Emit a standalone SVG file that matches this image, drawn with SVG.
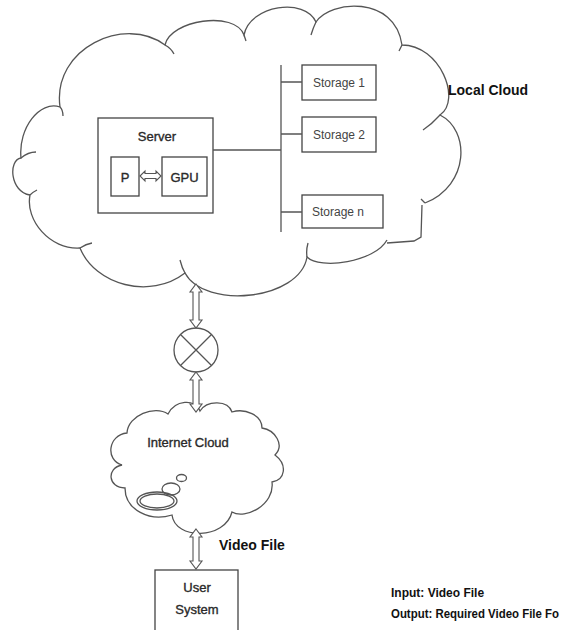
<svg xmlns="http://www.w3.org/2000/svg" width="567" height="630" viewBox="0 0 567 630">
<style>
.ln{fill:none;stroke:#555;stroke-width:1.3}
.bx{fill:#fff;stroke:#444;stroke-width:1.3}
.ar{fill:#fff;stroke:#555;stroke-width:1.1;stroke-linejoin:miter}
.t{font-family:"Liberation Sans",Arial,sans-serif;font-size:13px;fill:#2a2a2a;stroke:#2a2a2a;stroke-width:0.35}
.s{font-family:"Liberation Sans",Arial,sans-serif;font-size:12px;fill:#444}
.b{font-family:"Liberation Sans",Arial,sans-serif;font-size:14px;font-weight:bold;fill:#111}
.io{font-family:"Liberation Sans",Arial,sans-serif;font-size:12px;font-weight:bold;fill:#111}
</style>
<rect width="567" height="630" fill="#fff"/>
<g id="local-cloud">
<path class="ln" d="M30,195 C10,192 8,160 21,158 C18,128 40,100 60,107 C52,48 125,15 165,45 C170,20 235,10 244,35 C250,5 305,-3 316,22 C330,0 395,-5 402,45 C440,45 462,100 440,115 C470,130 470,185 425,203"/>
<path class="ln" d="M422,205 L421,237 L414,241 L387,243"/>
<path class="ln" d="M387,240 C375,262 320,270 307,257 C300,300 205,310 185,273 C150,300 95,285 80,248 C50,250 25,220 30,195"/>
<path class="ln" d="M60,107 Q63,110 63,116 M165,45 Q171,48 174,54 M244,35 L246,41 M316,22 Q313,28 311,35 M402,45 L399,51 M440,115 Q432,124 423,130 M425,203 L421,199 M307,257 Q306,250 308,243 M185,273 Q182,268 180,260 M80,248 Q86,244 92,243 M30,195 Q33,192 37,190 M21,158 Q28,152 36,152"/>
<text class="b" x="448" y="95">Local Cloud</text>
</g>
<g id="server">
<rect class="bx" x="98" y="118" width="115" height="95"/>
<text class="t" x="157" y="141" text-anchor="middle">Server</text>
</g>
<g id="p">
<rect class="bx" x="111" y="157" width="28" height="39"/>
<text class="t" x="125" y="182" text-anchor="middle">P</text>
</g>
<g id="gpu">
<rect class="bx" x="162" y="157" width="45" height="39"/>
<text class="t" x="184.5" y="182" text-anchor="middle">GPU</text>
</g>
<g id="storage1">
<rect class="bx" x="302" y="65" width="74" height="35"/>
<text class="s" x="339" y="87" text-anchor="middle">Storage 1</text>
</g>
<g id="storage2">
<rect class="bx" x="302" y="117" width="74" height="35"/>
<text class="s" x="339" y="139" text-anchor="middle">Storage 2</text>
</g>
<g id="storagen">
<rect class="bx" x="302" y="195" width="81" height="33"/>
<text class="s" x="312" y="216">Storage n</text>
</g>
<g id="switch">
<circle class="ln" cx="196" cy="350" r="22"/>
<path class="ln" d="M180.5,334.5 L211.5,365.5 M211.5,334.5 L180.5,365.5"/>
</g>
<g id="internet-cloud">
<path class="ln" d="M127,433 C128,415 155,405 168,414 C175,400 195,398 200,411 C207,400 228,400 232,412 C245,408 262,415 262,428 C275,430 285,445 275,455 C288,465 285,480 272,482 C275,505 245,520 232,512 C225,540 175,540 172,515 C150,522 125,510 125,488 C108,488 106,468 122,465 C105,460 108,435 127,433 Z"/>
<ellipse class="ln" cx="157" cy="501" rx="20" ry="9"/>
<ellipse class="ln" cx="157" cy="501" rx="17" ry="7"/>
<ellipse class="ln" cx="171" cy="489" rx="9" ry="6"/>
<ellipse class="ln" cx="181.5" cy="478" rx="5" ry="3.5"/>
<text class="t" x="188" y="447" text-anchor="middle">Internet Cloud</text>
</g>
<g id="user-system">
<rect class="bx" x="155" y="570" width="83" height="75"/>
<text class="t" x="197" y="592" text-anchor="middle">User</text>
<text class="t" x="197" y="614" text-anchor="middle">System</text>
</g>
<g id="connectors">
<path class="ln" d="M213,150 L281,150 M281,65 L281,232 M281,82 L302,82 M281,134 L302,134 M281,212 L302,212"/>
<path class="ar" d="M140,176 L145,171 L145,173.5 L156,173.5 L156,171 L161,176 L156,181 L156,178.5 L145,178.5 L145,181 Z"/>
<path class="ar" d="M196,284 L202,292 L199,292 L199,320 L202,320 L196,328 L190,320 L193,320 L193,292 L190,292 Z"/>
<path class="ar" d="M196,372 L202,380 L199,380 L199,404 L202,404 L196,412 L190,404 L193,404 L193,380 L190,380 Z"/>
<path class="ar" d="M196,529 L202,537 L199,537 L199,561 L202,561 L196,569 L190,561 L193,561 L193,537 L190,537 Z"/>
</g>
<g id="labels">
<text class="b" x="219" y="550">Video File</text>
<text class="io" x="391" y="597">Input: Video File</text>
<text class="io" x="391" y="618" textLength="168" lengthAdjust="spacingAndGlyphs">Output: Required Video File Fo</text>
</g>
</svg>
